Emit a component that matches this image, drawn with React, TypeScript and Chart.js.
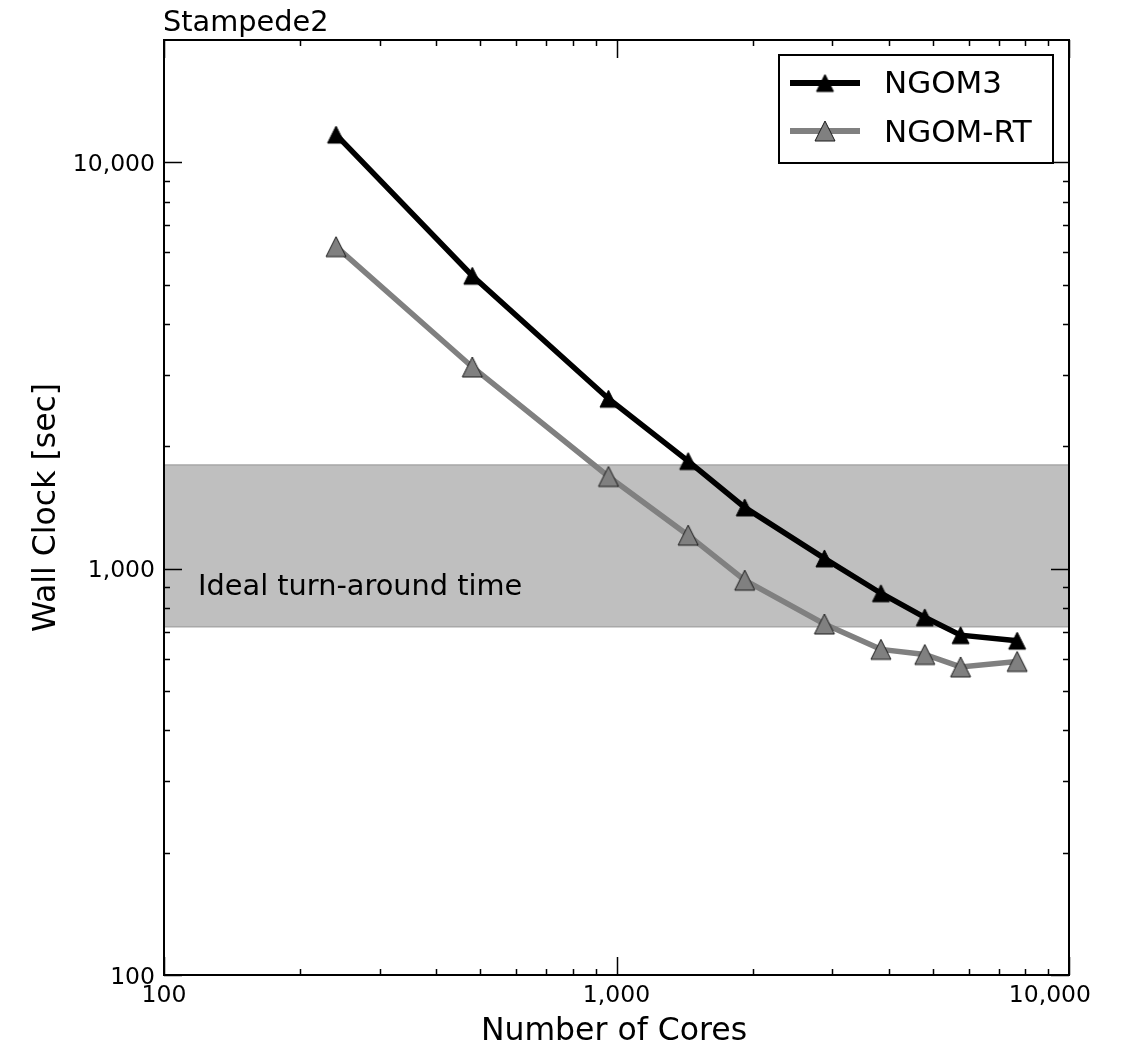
import React, { useEffect, useRef } from 'react';
import { Chart, registerables } from 'chart.js';

Chart.register(...registerables);

// ---- Data ----
const cores = [240, 480, 960, 1440, 1920, 2880, 3840, 4800, 5760, 7680];
const ngom3 = [11700, 5260, 2620, 1840, 1415, 1060, 870, 759, 686, 665];
const ngomRT = [6200, 3136, 1686, 1209, 937, 731, 633, 615, 573, 591];
const seriesNames = ['NGOM3', 'NGOM-RT'];
const bandRange = [720, 1800];
const bandLabel = 'Ideal turn-around time';
const chartTitle = 'Stampede2';
const xAxisTitle = 'Number of Cores';
const yAxisTitle = 'Wall Clock [sec]';
const majorTicks = [100, 1000, 10000];
const majorTickLabels = ['100', '1,000', '10,000'];
const minorMultipliers = [2, 3, 4, 5, 6, 7, 8, 9];
const xRange = [100, 10000];
const yRange = [100, 20000];

const FONT = '"DejaVu Sans", sans-serif';

function makeTriangle(size: number, fill: string, stroke: string, lw: number) {
  const pad = Math.ceil(lw) + 1;
  const c = document.createElement('canvas');
  c.width = size + pad * 2;
  c.height = size + pad * 2;
  const g = c.getContext('2d')!;
  g.beginPath();
  g.moveTo(pad + size / 2, pad);
  g.lineTo(pad, pad + size);
  g.lineTo(pad + size, pad + size);
  g.closePath();
  g.fillStyle = fill;
  g.fill();
  g.lineWidth = lw;
  g.strokeStyle = stroke;
  g.lineJoin = 'miter';
  g.stroke();
  return c;
}

export default function App() {
  const ref = useRef<HTMLCanvasElement | null>(null);

  useEffect(() => {
    if (!ref.current) return;
    const triBlack = makeTriangle(17, '#000000', '#000000', 1);
    const triGray = makeTriangle(20, '#808080', '#1a1a1a', 1);

    const decor = {
      id: 'decor',
      beforeDatasetsDraw(chart: any) {
        const { ctx, chartArea: a, scales } = chart;
        const y = scales.y;
        const yTop = y.getPixelForValue(bandRange[1]);
        const yBot = y.getPixelForValue(bandRange[0]);
        ctx.save();
        ctx.fillStyle = '#bfbfbf';
        ctx.fillRect(a.left, yTop, a.right - a.left, yBot - yTop);
        ctx.strokeStyle = '#a8a8a8';
        ctx.lineWidth = 1.5;
        ctx.beginPath();
        ctx.moveTo(a.left, yTop);
        ctx.lineTo(a.right, yTop);
        ctx.moveTo(a.left, yBot);
        ctx.lineTo(a.right, yBot);
        ctx.stroke();
        ctx.fillStyle = '#000';
        ctx.font = `28.8px ${FONT}`;
        ctx.textAlign = 'left';
        ctx.textBaseline = 'alphabetic';
        ctx.fillText(bandLabel, 198, 595);
        ctx.restore();
      },
      afterDraw(chart: any) {
        const { ctx, chartArea: a, scales } = chart;
        const x = scales.x;
        const y = scales.y;
        ctx.save();
        // ticks
        ctx.strokeStyle = '#000';
        ctx.lineWidth = 1.5;
        const MAJ = 18;
        const MIN = 6;
        const xt: [number, number][] = [];
        const yt: [number, number][] = [];
        majorTicks.forEach((d) => {
          if (d >= xRange[0] && d <= xRange[1]) xt.push([d, MAJ]);
          if (d >= yRange[0] && d <= yRange[1]) yt.push([d, MAJ]);
          minorMultipliers.forEach((m) => {
            const v = d * m;
            if (v > xRange[0] && v < xRange[1]) xt.push([v, MIN]);
            if (v > yRange[0] && v < yRange[1]) yt.push([v, MIN]);
          });
        });
        ctx.beginPath();
        xt.forEach(([v, len]) => {
          const px = Math.round(x.getPixelForValue(v)) + 0.5;
          ctx.moveTo(px, a.bottom);
          ctx.lineTo(px, a.bottom - len);
          ctx.moveTo(px, a.top);
          ctx.lineTo(px, a.top + len);
        });
        yt.forEach(([v, len]) => {
          const py = Math.round(y.getPixelForValue(v)) + 0.5;
          ctx.moveTo(a.left, py);
          ctx.lineTo(a.left + len, py);
          ctx.moveTo(a.right, py);
          ctx.lineTo(a.right - len, py);
        });
        ctx.stroke();
        // frame
        ctx.lineWidth = 2;
        ctx.strokeRect(a.left, a.top, a.right - a.left, a.bottom - a.top);

        // tick labels
        ctx.fillStyle = '#000';
        ctx.font = `23.5px ${FONT}`;
        ctx.textBaseline = 'alphabetic';
        majorTicks.forEach((v, i) => {
          const lbl = majorTickLabels[i];
          const w = ctx.measureText(lbl).width;
          let px = x.getPixelForValue(v);
          px = Math.min(px, 1091 - w / 2);
          ctx.textAlign = 'center';
          ctx.fillText(lbl, px, 1002);
          const py = y.getPixelForValue(v);
          ctx.textAlign = 'right';
          ctx.fillText(lbl, 155, py + 8.5);
        });

        // title
        ctx.font = `28.8px ${FONT}`;
        ctx.textAlign = 'left';
        ctx.fillText(chartTitle, 163, 31);

        // axis titles
        ctx.font = `31.5px ${FONT}`;
        ctx.textAlign = 'center';
        ctx.fillText(xAxisTitle, 614, 1040);
        ctx.save();
        ctx.translate(55, (a.top + a.bottom) / 2);
        ctx.rotate(-Math.PI / 2);
        ctx.fillText(yAxisTitle, 0, 0);
        ctx.restore();

        // legend
        const bx = 779, by = 55, bw = 274, bh = 108;
        ctx.fillStyle = '#fff';
        ctx.fillRect(bx, by, bw, bh);
        ctx.lineWidth = 2;
        ctx.strokeStyle = '#000';
        ctx.strokeRect(bx, by, bw, bh);
        const rows = [
          { name: seriesNames[0], color: '#000000', img: triBlack, yy: 83, base: 93 },
          { name: seriesNames[1], color: '#808080', img: triGray, yy: 131, base: 142 },
        ];
        rows.forEach((r) => {
          ctx.strokeStyle = r.color;
          ctx.lineWidth = 6;
          ctx.beginPath();
          ctx.moveTo(790, r.yy);
          ctx.lineTo(860, r.yy);
          ctx.stroke();
          ctx.drawImage(r.img, 825 - r.img.width / 2, r.yy - r.img.height / 2);
          ctx.fillStyle = '#000';
          ctx.font = `31px ${FONT}`;
          ctx.textAlign = 'left';
          ctx.fillText(r.name, 884, r.base);
        });
        ctx.restore();
      },
    };

    const chart = new Chart(ref.current, {
      type: 'line',
      data: {
        datasets: [
          {
            label: seriesNames[1],
            data: cores.map((c, i) => ({ x: c, y: ngomRT[i] })),
            borderColor: '#808080',
            backgroundColor: '#808080',
            borderWidth: 5.5,
            pointStyle: triGray as any,
            pointRadius: 10,
            pointHoverRadius: 10,
            tension: 0,
          },
          {
            label: seriesNames[0],
            data: cores.map((c, i) => ({ x: c, y: ngom3[i] })),
            borderColor: '#000000',
            backgroundColor: '#000000',
            borderWidth: 5.5,
            pointStyle: triBlack as any,
            pointRadius: 9,
            pointHoverRadius: 9,
            tension: 0,
          },
        ],
      },
      options: {
        responsive: false,
        animation: false,
        devicePixelRatio: 1,
        layout: { padding: { left: 164, top: 40, right: 70, bottom: 76 } },
        plugins: { legend: { display: false }, title: { display: false }, tooltip: { enabled: false } },
        events: [],
        scales: {
          x: { type: 'logarithmic', min: xRange[0], max: xRange[1], display: false },
          y: { type: 'logarithmic', min: yRange[0], max: yRange[1], display: false },
        },
      },
      plugins: [decor],
    } as any);
    return () => chart.destroy();
  }, []);

  return (
    <div style={{ position: 'absolute', left: 0, top: 0, width: 1139, height: 1051, background: '#fff' }}>
      <canvas ref={ref} width={1139} height={1051} style={{ display: 'block' }} />
    </div>
  );
}
